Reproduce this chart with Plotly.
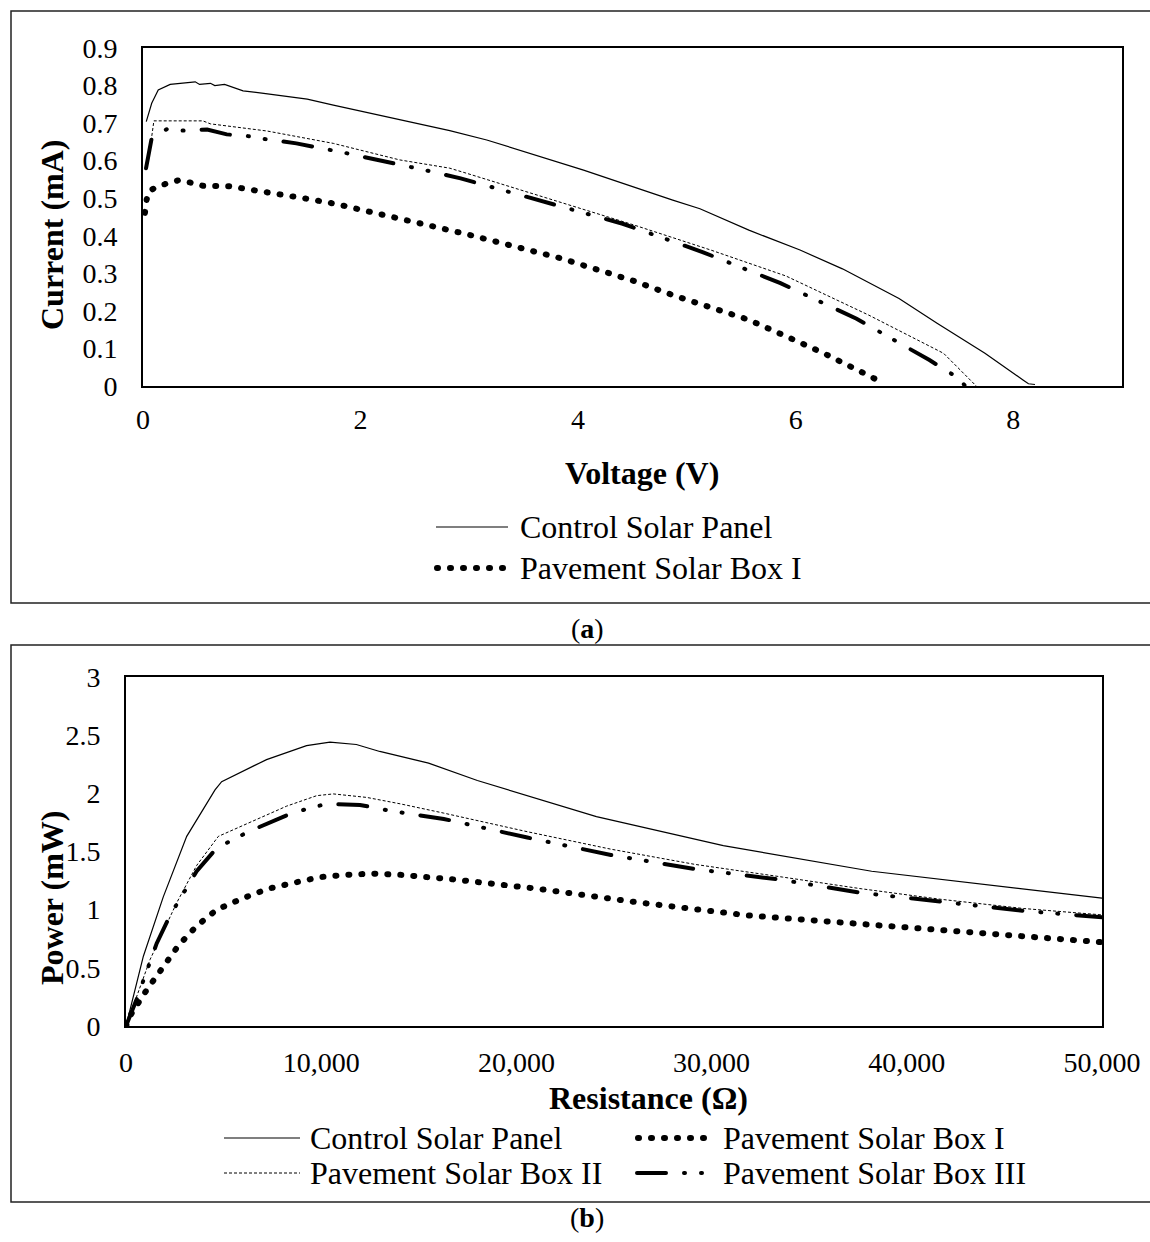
import plotly.graph_objects as go

# ---- (a) current-voltage curves ----
voltage_control = [0.03, 0.08, 0.14, 0.25, 0.48, 0.52, 0.62, 0.66, 0.75, 0.92, 1.11, 1.29, 1.51, 1.75,
                   2.24, 2.82, 3.16, 4.05, 4.87, 5.12, 5.57, 6.04, 6.43, 6.95, 7.30, 7.74, 8.09, 8.14, 8.20]
current_control = [0.704, 0.753, 0.788, 0.803, 0.810, 0.803, 0.806, 0.800, 0.803, 0.786, 0.779, 0.773, 0.764, 0.748,
                   0.717, 0.680, 0.655, 0.575, 0.495, 0.472, 0.415, 0.362, 0.312, 0.233, 0.167, 0.087, 0.016, 0.006, 0.004]

voltage_box1 = [0.018, 0.034, 0.06, 0.10, 0.15, 0.23, 0.33, 0.43, 0.55, 0.79, 1.03, 1.28, 1.52, 1.77, 2.01,
                2.26, 2.50, 2.73, 2.98, 3.84, 4.51, 4.87, 5.57, 6.03, 6.26, 6.71, 6.82]
current_box1 = [0.461, 0.497, 0.520, 0.527, 0.533, 0.540, 0.548, 0.542, 0.533, 0.532, 0.522, 0.509, 0.498, 0.485, 0.469,
                0.455, 0.439, 0.421, 0.404, 0.340, 0.280, 0.242, 0.176, 0.117, 0.087, 0.022, 0.005]

voltage_box2 = [0.05, 0.10, 0.55, 0.62, 1.14, 1.44, 1.75, 2.36, 2.82, 2.98, 3.70, 4.51, 5.22, 5.91, 6.67, 7.36, 7.66]
current_box2 = [0.600, 0.706, 0.706, 0.698, 0.679, 0.662, 0.646, 0.602, 0.580, 0.566, 0.502, 0.429, 0.362, 0.293, 0.189, 0.087, 0.0]

voltage_box3 = [0.028, 0.08, 0.22, 0.36, 0.52, 0.59, 0.77, 0.95, 1.11, 1.41, 1.87, 2.17, 2.62, 2.92, 3.67,
                4.41, 5.15, 5.86, 6.56, 7.23, 7.49, 7.56]
current_box3 = [0.580, 0.660, 0.684, 0.680, 0.682, 0.683, 0.670, 0.666, 0.658, 0.646, 0.620, 0.602, 0.573, 0.553, 0.493,
                0.432, 0.356, 0.274, 0.179, 0.069, 0.022, 0.0]

# ---- (b) power-resistance curves ----
resist_control = [0, 890, 1910, 3110, 4560, 4900, 7200, 9250, 10450, 11800, 13000, 15500, 18000, 24100, 30600, 38200, 50000]
power_control = [0, 0.60, 1.11, 1.63, 2.03, 2.10, 2.29, 2.41, 2.44, 2.42, 2.36, 2.26, 2.11, 1.80, 1.55, 1.33, 1.10]

resist_box1 = [0, 290, 1060, 1830, 2680, 3620, 4650, 6010, 7290, 8570, 9940, 11300, 12670, 14040, 16790,
               21070, 26350, 31890, 38170, 44470, 50000]
power_box1 = [0, 0.11, 0.31, 0.50, 0.69, 0.86, 1.00, 1.10, 1.18, 1.23, 1.28, 1.30, 1.31, 1.30, 1.26,
              1.18, 1.06, 0.95, 0.87, 0.79, 0.72]

resist_box2 = [0, 1230, 2600, 3620, 4730, 6350, 8230, 9770, 10620, 12330, 14040, 16280, 20560, 24840, 29120,
               33640, 37660, 41700, 45970, 50000]
power_box2 = [0, 0.57, 1.06, 1.38, 1.63, 1.75, 1.89, 1.98, 1.995, 1.965, 1.91, 1.83, 1.67, 1.52, 1.39,
              1.28, 1.18, 1.09, 1.01, 0.955]

resist_box3 = [0, 546, 1571, 2254, 3620, 4645, 6268, 8570, 10280, 11990, 13700, 16280, 20560, 24840, 29120,
               33640, 37660, 41700, 45970, 50000]
power_box3 = [0, 0.23, 0.71, 0.95, 1.33, 1.53, 1.67, 1.835, 1.91, 1.90, 1.845, 1.78, 1.62, 1.47, 1.35,
              1.255, 1.145, 1.07, 0.99, 0.935]

series_names = ["Control Solar Panel", "Pavement Solar Box I", "Pavement Solar Box II", "Pavement Solar Box III"]

# tick labels
voltage_ticks = [0, 2, 4, 6, 8]
voltage_ticktext = ["0", "2", "4", "6", "8"]
current_ticks = [0, 0.1, 0.2, 0.3, 0.4, 0.5, 0.6, 0.7, 0.8, 0.9]
current_ticktext = ["0", "0.1", "0.2", "0.3", "0.4", "0.5", "0.6", "0.7", "0.8", "0.9"]
resist_ticks = [0, 10000, 20000, 30000, 40000, 50000]
resist_ticktext = ["0", "10,000", "20,000", "30,000", "40,000", "50,000"]
power_ticks = [0, 0.5, 1, 1.5, 2, 2.5, 3]
power_ticktext = ["0", "0.5", "1", "1.5", "2", "2.5", "3"]

# ---- page geometry (pixels) ----
W, H = 1150, 1242
SERIF = "Liberation Serif, Times New Roman, serif"


def px(x):
    return x / W


def py(y):
    return 1 - y / H


# line styles for the four series (round caps are applied after drawing)
styles = [
    dict(color="black", width=1.2, dash="solid"),
    dict(color="black", width=6, dash="1px,12px"),
    dict(color="black", width=1, dash="3px,2px"),
    dict(color="black", width=4, dash="29px,18px,1px,16px,1px,18px"),
]

fig = go.Figure()

iv = [(voltage_control, current_control), (voltage_box1, current_box1),
      (voltage_box2, current_box2), (voltage_box3, current_box3)]
for (xs, ys), name, st in zip(iv, series_names, styles):
    fig.add_trace(go.Scatter(x=xs, y=ys, mode="lines", name=name, line=st,
                             xaxis="x", yaxis="y", showlegend=False))

pr = [(resist_control, power_control), (resist_box1, power_box1),
      (resist_box2, power_box2), (resist_box3, power_box3)]
for (xs, ys), name, st in zip(pr, series_names, styles):
    fig.add_trace(go.Scatter(x=xs, y=ys, mode="lines", name=name, line=st,
                             xaxis="x2", yaxis="y2", showlegend=False))

tickfont = dict(family=SERIF, size=28, color="black")
axis_common = dict(showgrid=False, zeroline=False, showline=True, linecolor="black",
                   linewidth=2, mirror=True, ticks="", tickfont=tickfont, automargin=False)

fig.update_layout(
    width=W, height=H,
    autosize=False,
    margin=dict(l=0, r=0, t=0, b=0, pad=0, autoexpand=False),
    paper_bgcolor="white", plot_bgcolor="white",
    showlegend=False,
    xaxis=dict(domain=[px(143), px(1122)], range=[0, 9], tickvals=voltage_ticks,
               ticktext=voltage_ticktext, anchor="y", ticklabelstandoff=7, **axis_common),
    yaxis=dict(domain=[py(386), py(48)], range=[0, 0.9], tickvals=current_ticks,
               ticktext=current_ticktext, anchor="x", ticklabelstandoff=18, **axis_common),
    xaxis2=dict(domain=[px(126), px(1102)], range=[0, 50000], tickvals=resist_ticks,
                ticktext=resist_ticktext, anchor="y2", ticklabelstandoff=10, **axis_common),
    yaxis2=dict(domain=[py(1026), py(677)], range=[0, 3], tickvals=power_ticks,
                ticktext=power_ticktext, anchor="x2", ticklabelstandoff=18, **axis_common),
)

title_font = dict(family=SERIF, size=32, color="black")
label_font = dict(family=SERIF, size=32, color="black")
annotations = [
    dict(text="<b>Voltage (V)</b>", x=px(642), y=py(473), font=title_font),
    dict(text="<b>Current (mA)</b>", x=px(52), y=py(235), font=title_font, textangle=-90),
    dict(text="<b>Resistance (Ω)</b>", x=px(648), y=py(1098), font=title_font),
    dict(text="<b>Power (mW)</b>", x=px(52), y=py(898), font=title_font, textangle=-90),
    dict(text="(<b>a</b>)", x=px(587), y=py(628), font=dict(family=SERIF, size=28, color="black")),
    dict(text="(<b>b</b>)", x=px(587), y=py(1217), font=dict(family=SERIF, size=28, color="black")),
]
for a in annotations:
    a.update(xref="paper", yref="paper", showarrow=False, xanchor="center", yanchor="middle")


def open_frame(top, bottom, left=11):
    # top, left and bottom edges of a panel frame running out to the right page edge
    return dict(type="path", xref="paper", yref="paper",
                path=f"M 1,{py(top)} L {px(left)},{py(top)} L {px(left)},{py(bottom)} L 1,{py(bottom)}",
                line=dict(color="#222222", width=1.5))


shapes = [open_frame(11, 603), open_frame(645, 1202)]

# legend entries: (sample x0, sample x1, text x, row y, style index)
legend_items = [
    (436, 508, 518, 527, 0),
    (437, 507, 518, 568, 1),
    (224, 300, 308, 1138, 0),
    (638, 709, 721, 1138, 1),
    (224, 300, 308, 1173, 2),
    (637, 709, 721, 1173, 3),
]
for x0, x1, tx, ry, si in legend_items:
    st = styles[si]
    shapes.append(dict(type="line", xref="paper", yref="paper", x0=px(x0), x1=px(x1),
                       y0=py(ry), y1=py(ry), line=dict(color=st["color"], width=st["width"], dash=st["dash"])))
    annotations.append(dict(text=series_names[si], x=px(tx), y=py(ry), xref="paper", yref="paper",
                            showarrow=False, xanchor="left", yanchor="middle", font=label_font))

fig.update_layout(annotations=annotations, shapes=shapes)

# give the thick dotted / dash-dot strokes round ends so the dots come out circular
round_caps = """
document.querySelectorAll('path').forEach(function (p) {
    var w = parseFloat(p.style.strokeWidth || '0');
    var d = p.style.strokeDasharray;
    if (w >= 3 && d && d !== 'none') { p.style.strokeLinecap = 'round'; }
});
"""

fig.write_html("out.html", post_script=round_caps)
